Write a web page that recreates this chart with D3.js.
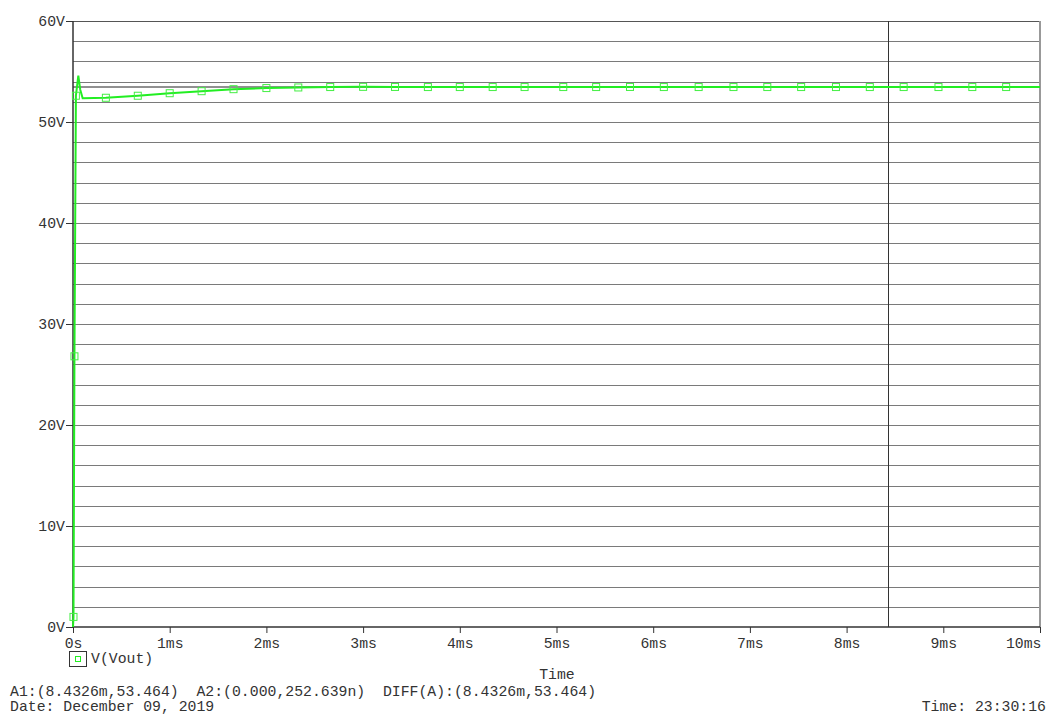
<!DOCTYPE html>
<html>
<head>
<meta charset="utf-8">
<script src="https://cdn.jsdelivr.net/npm/d3@7"></script>
<style>
  body { margin: 0; background: #fff; }
  text { font-family: "Liberation Mono", "DejaVu Sans Mono", monospace; fill: #333; }
</style>
</head>
<body>
<div id="chart"></div>
<script>
// trace V(Vout), time in ms
var traceTime = [0, 0.005, 0.015, 0.03, 0.055, 0.075, 0.1, 0.34, 0.67, 1.0, 1.33, 1.66, 2.0, 2.33, 2.66, 3.0, 3.33, 3.67, 4.0, 4.34, 4.67, 5.07, 5.41, 5.76, 6.11, 6.47, 6.83, 7.18, 7.53, 7.89, 8.24, 8.59, 8.95, 9.30, 9.65, 10];
var traceVolt = [0, 1.0, 26.8, 52.6, 54.6, 53.2, 52.35, 52.4, 52.6, 52.85, 53.05, 53.25, 53.36, 53.42, 53.46, 53.48, 53.47, 53.46, 53.46, 53.46, 53.46, 53.46, 53.46, 53.47, 53.46, 53.46, 53.46, 53.46, 53.46, 53.46, 53.46, 53.46, 53.46, 53.46, 53.46, 53.46];
// marker points on the trace
var markTime = [0.005, 0.015, 0.03, 0.34, 0.67, 1.0, 1.33, 1.66, 2.0, 2.33, 2.66, 3.0, 3.33, 3.67, 4.0, 4.34, 4.67, 5.07, 5.41, 5.76, 6.11, 6.47, 6.83, 7.18, 7.53, 7.89, 8.24, 8.59, 8.95, 9.30, 9.65];
var markVolt = [1.0, 26.8, 52.6, 52.4, 52.6, 52.85, 53.05, 53.25, 53.36, 53.42, 53.46, 53.48, 53.47, 53.46, 53.46, 53.46, 53.46, 53.46, 53.46, 53.47, 53.46, 53.46, 53.46, 53.46, 53.46, 53.46, 53.46, 53.46, 53.46, 53.46, 53.46];

var xTicks = [0, 1, 2, 3, 4, 5, 6, 7, 8, 9, 10];
var xTickLabels = ["0s", "1ms", "2ms", "3ms", "4ms", "5ms", "6ms", "7ms", "8ms", "9ms", "10ms"];
var yTicks = [0, 10, 20, 30, 40, 50, 60];
var yTickLabels = ["0V", "10V", "20V", "30V", "40V", "50V", "60V"];
var gridVolts = d3.range(2, 60, 2);

var cursorA1 = [8.4326, 53.464];
var cursorText = "A1:(8.4326m,53.464)  A2:(0.000,252.639n)  DIFF(A):(8.4326m,53.464)";
var dateText = "Date: December 09, 2019";
var timeText = "Time: 23:30:16";

var width = 1049, height = 715;
var margin = {top: 21, right: 9, bottom: 88, left: 73};
var fs = "14.8px";

var svg = d3.select("#chart").append("svg")
    .attr("width", width)
    .attr("height", height);

var x = d3.scaleLinear().domain([0, 10]).range([margin.left, width - margin.right]);
var y = d3.scaleLinear().domain([0, 60]).range([height - margin.bottom, margin.top]);

// horizontal grid
svg.selectAll(".grid")
    .data(gridVolts)
    .enter().append("line")
    .attr("x1", x(0)).attr("x2", x(10))
    .attr("y1", function(d){ return Math.round(y(d)) + 0.5; })
    .attr("y2", function(d){ return Math.round(y(d)) + 0.5; })
    .style("stroke", "#7a7a7a")
    .style("stroke-width", "1.2px");

// top and right border
svg.append("line")
    .attr("x1", x(0)).attr("x2", x(10))
    .attr("y1", Math.round(y(60)) + 0.5).attr("y2", Math.round(y(60)) + 0.5)
    .style("stroke", "#555").style("stroke-width", "1.2px");
svg.append("line")
    .attr("x1", x(10)).attr("x2", x(10))
    .attr("y1", y(60)).attr("y2", y(0))
    .style("stroke", "#999").style("stroke-width", "2px");

// cursor lines
svg.append("line")
    .attr("x1", Math.round(x(cursorA1[0])) + 0.5).attr("x2", Math.round(x(cursorA1[0])) + 0.5)
    .attr("y1", y(60)).attr("y2", y(0))
    .style("stroke", "#333").style("stroke-width", "1px");
svg.append("line")
    .attr("x1", x(0)).attr("x2", x(10))
    .attr("y1", y(cursorA1[1])).attr("y2", y(cursorA1[1]))
    .style("stroke", "#222").style("stroke-width", "1px");

// axes
var yAxis = d3.axisLeft(y).tickValues(yTicks)
    .tickFormat(function(d, i){ return yTickLabels[i]; })
    .tickSize(7).tickPadding(1);
var gy = svg.append("g").attr("transform", "translate(" + x(0) + ",0)").call(yAxis);

var xAxis = d3.axisBottom(x).tickValues(xTicks)
    .tickFormat(function(d, i){ return xTickLabels[i]; })
    .tickSize(6).tickPadding(4);
var gx = svg.append("g").attr("transform", "translate(0," + y(0) + ")").call(xAxis);

[gx, gy].forEach(function(g){
    g.select(".domain").style("stroke", "#333").style("stroke-width", "1.5px");
    g.selectAll(".tick line").style("stroke", "#333");
    g.selectAll("text").style("font-size", fs).style("fill", "#333")
        .style("font-family", "'Liberation Mono', monospace");
});
gy.select(".domain").attr("d", "M0," + y(60) + "V" + y(0));
gx.select(".domain").attr("d", "M" + x(0) + ",0H" + x(10));
// last time label sits flush with the right edge
gx.selectAll(".tick text").filter(function(d){ return d === 10; })
    .attr("text-anchor", "end").attr("x", 1);

// trace
var line = d3.line()
    .x(function(d, i){ return x(traceTime[i]); })
    .y(function(d){ return y(d); });
svg.append("path")
    .datum(traceVolt)
    .attr("d", line)
    .style("fill", "none")
    .style("stroke", "#22ee22")
    .style("stroke-width", "2px");

svg.selectAll(".mark")
    .data(markVolt)
    .enter().append("rect")
    .attr("x", function(d, i){ return x(markTime[i]) - 3.5; })
    .attr("y", function(d){ return y(d) - 3.5; })
    .attr("width", 7).attr("height", 7)
    .style("fill", "none")
    .style("stroke", "#44ee44")
    .style("stroke-width", "1px");

// legend
svg.append("rect")
    .attr("x", 69.5).attr("y", 651.5).attr("width", 17).attr("height", 15)
    .style("fill", "none").style("stroke", "#333").style("stroke-width", "1px");
svg.append("rect")
    .attr("x", 75.5).attr("y", 656.5).attr("width", 5).attr("height", 5)
    .style("fill", "none").style("stroke", "#22ee22").style("stroke-width", "1px");
svg.append("text")
    .attr("x", 91).attr("y", 663)
    .style("font-size", fs)
    .text("V(Vout)");

svg.append("text")
    .attr("x", 557).attr("y", 679)
    .attr("text-anchor", "middle")
    .style("font-size", fs)
    .text("Time");

svg.append("text")
    .attr("x", 10).attr("y", 696)
    .style("font-size", fs)
    .style("white-space", "pre")
    .attr("xml:space", "preserve")
    .text(cursorText);
svg.append("text")
    .attr("x", 10).attr("y", 711)
    .style("font-size", fs)
    .text(dateText);
svg.append("text")
    .attr("x", 1046).attr("y", 711)
    .attr("text-anchor", "end")
    .style("font-size", fs)
    .text(timeText);
</script>
</body>
</html>
